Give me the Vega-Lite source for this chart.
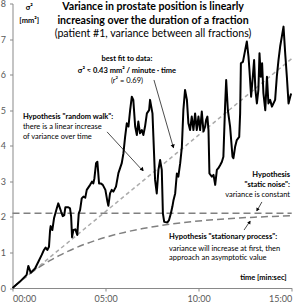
{
  "$schema": "https://vega.github.io/schema/vega-lite/v6.json",
  "width": 279.2,
  "height": 284.5,
  "autosize": {"type": "none"},
  "padding": {"left": 12.5, "top": 3.5, "right": 9.3, "bottom": 14},
  "config": {
    "view": {"stroke": null},
    "font": "Lato",
    "axis": {"grid": false, "domainColor": "#898989", "tickColor": "#898989", "labelColor": "#595959", "labelFontSize": 9, "labelFont": "Lato", "tickSize": 3, "title": null, "labelOverlap": false},
    "text": {"color": "#000000", "fontSize": 7.5, "baseline": "middle"}
  },
  "encoding": {
    "x": {"type": "quantitative", "scale": {"domain": [0, 15], "nice": false},
      "axis": {"values": [0, 5, 10, 15], "tickCount": 4, "labelExpr": "(datum.value < 10 ? '0' : '') + datum.value + ':00'", "labelPadding": 3}},
    "y": {"type": "quantitative", "scale": {"domain": [0, 8], "nice": false},
      "axis": {"values": [0, 1, 2, 3, 4, 5, 6, 7, 8], "tickCount": 9, "labelPadding": 4}}
  },
  "datasets": {
    "one": [{}],
    "variance": [
      {"t": 0, "v": 0}, {"t": 0.4, "v": 0.18}, {"t": 0.76, "v": 0.37}, {"t": 0.85, "v": 0.62}, {"t": 0.98, "v": 0.43},
      {"t": 1.21, "v": 0.55}, {"t": 1.39, "v": 0.74}, {"t": 1.57, "v": 0.93}, {"t": 1.69, "v": 1.07}, {"t": 1.78, "v": 1.14},
      {"t": 1.87, "v": 1.07}, {"t": 1.96, "v": 1.16}, {"t": 2.02, "v": 1.63}, {"t": 2.05, "v": 1.74}, {"t": 2.14, "v": 1.63},
      {"t": 2.23, "v": 1.96}, {"t": 2.38, "v": 2.24}, {"t": 2.46, "v": 2.38}, {"t": 2.52, "v": 2.29}, {"t": 2.61, "v": 2.15},
      {"t": 2.7, "v": 2.02}, {"t": 2.78, "v": 2.05}, {"t": 2.84, "v": 2.27}, {"t": 3.0, "v": 2.27}, {"t": 3.09, "v": 2.24},
      {"t": 3.15, "v": 2.01}, {"t": 3.2, "v": 1.43}, {"t": 3.27, "v": 1.63}, {"t": 3.38, "v": 1.65}, {"t": 3.48, "v": 1.49},
      {"t": 3.56, "v": 2.1}, {"t": 3.63, "v": 2.19}, {"t": 3.72, "v": 2.52}, {"t": 3.81, "v": 2.57}, {"t": 3.91, "v": 2.54},
      {"t": 3.99, "v": 2.76}, {"t": 4.17, "v": 2.9}, {"t": 4.27, "v": 2.99}, {"t": 4.34, "v": 2.94}, {"t": 4.4, "v": 3.08},
      {"t": 4.49, "v": 3.51}, {"t": 4.56, "v": 3.55}, {"t": 4.65, "v": 2.94}, {"t": 4.74, "v": 2.94}, {"t": 4.85, "v": 2.9},
      {"t": 4.99, "v": 2.76}, {"t": 5.1, "v": 2.43}, {"t": 5.15, "v": 2.31}, {"t": 5.24, "v": 2.66}, {"t": 5.33, "v": 2.76},
      {"t": 5.42, "v": 2.71}, {"t": 5.56, "v": 2.85}, {"t": 5.69, "v": 3.23}, {"t": 5.78, "v": 3.37}, {"t": 5.87, "v": 3.51},
      {"t": 5.96, "v": 3.79}, {"t": 6.05, "v": 4.25}, {"t": 6.14, "v": 4.63}, {"t": 6.23, "v": 4.54}, {"t": 6.32, "v": 5.0},
      {"t": 6.41, "v": 5.38}, {"t": 6.49, "v": 5.29}, {"t": 6.59, "v": 4.54}, {"t": 6.68, "v": 4.3}, {"t": 6.76, "v": 4.68},
      {"t": 6.85, "v": 4.35}, {"t": 6.95, "v": 4.44}, {"t": 7.03, "v": 4.3}, {"t": 7.12, "v": 4.54}, {"t": 7.22, "v": 4.91},
      {"t": 7.34, "v": 5.0}, {"t": 7.39, "v": 5.29}, {"t": 7.52, "v": 4.91}, {"t": 7.57, "v": 4.25}, {"t": 7.66, "v": 3.04},
      {"t": 7.75, "v": 2.66}, {"t": 7.84, "v": 3.32}, {"t": 7.93, "v": 3.6}, {"t": 8.02, "v": 3.32}, {"t": 8.08, "v": 2.1},
      {"t": 8.15, "v": 1.86}, {"t": 8.32, "v": 1.84}, {"t": 8.41, "v": 1.91}, {"t": 8.51, "v": 2.1}, {"t": 8.59, "v": 2.29},
      {"t": 8.65, "v": 2.47}, {"t": 8.74, "v": 2.66}, {"t": 8.83, "v": 3.22}, {"t": 8.91, "v": 3.13}, {"t": 9.01, "v": 3.51},
      {"t": 9.1, "v": 3.97}, {"t": 9.18, "v": 5.0}, {"t": 9.27, "v": 5.57}, {"t": 9.37, "v": 5.29}, {"t": 9.45, "v": 4.63},
      {"t": 9.54, "v": 4.44}, {"t": 9.63, "v": 4.82}, {"t": 9.72, "v": 4.44}, {"t": 9.81, "v": 4.91}, {"t": 9.9, "v": 4.44},
      {"t": 9.99, "v": 4.82}, {"t": 10.08, "v": 4.44}, {"t": 10.17, "v": 4.96}, {"t": 10.26, "v": 4.4}, {"t": 10.35, "v": 4.54},
      {"t": 10.4, "v": 4.72}, {"t": 10.47, "v": 4.82}, {"t": 10.53, "v": 4.44}, {"t": 10.58, "v": 3.22}, {"t": 10.71, "v": 3.13},
      {"t": 10.8, "v": 3.18}, {"t": 10.89, "v": 2.9}, {"t": 10.98, "v": 3.32}, {"t": 11.06, "v": 3.37}, {"t": 11.16, "v": 3.46},
      {"t": 11.25, "v": 3.55}, {"t": 11.33, "v": 3.69}, {"t": 11.42, "v": 5.1}, {"t": 11.48, "v": 5.85}, {"t": 11.57, "v": 5.0},
      {"t": 11.69, "v": 4.54}, {"t": 11.82, "v": 3.69}, {"t": 11.87, "v": 3.65}, {"t": 11.96, "v": 3.97}, {"t": 12.05, "v": 4.16},
      {"t": 12.18, "v": 4.25}, {"t": 12.23, "v": 4.91}, {"t": 12.27, "v": 6.32}, {"t": 12.38, "v": 6.36}, {"t": 12.5, "v": 6.69},
      {"t": 12.59, "v": 6.93}, {"t": 12.68, "v": 6.5}, {"t": 12.73, "v": 6.13}, {"t": 12.82, "v": 5.38}, {"t": 12.91, "v": 5.94},
      {"t": 12.98, "v": 6.41}, {"t": 13.05, "v": 5.57}, {"t": 13.13, "v": 5.19}, {"t": 13.21, "v": 5.57}, {"t": 13.27, "v": 6.6},
      {"t": 13.34, "v": 5.94}, {"t": 13.41, "v": 6.32}, {"t": 13.48, "v": 5.48}, {"t": 13.58, "v": 5.0}, {"t": 13.67, "v": 5.94},
      {"t": 13.75, "v": 5.19}, {"t": 13.84, "v": 5.29}, {"t": 13.94, "v": 5.1}, {"t": 14.02, "v": 5.19}, {"t": 14.11, "v": 5.29},
      {"t": 14.2, "v": 5.94}, {"t": 14.29, "v": 6.41}, {"t": 14.38, "v": 6.79}, {"t": 14.47, "v": 7.07}, {"t": 14.56, "v": 7.35},
      {"t": 14.65, "v": 6.6}, {"t": 14.74, "v": 5.94}, {"t": 14.83, "v": 5.19}, {"t": 14.92, "v": 5.38}, {"t": 14.97, "v": 5.47}
    ],
    "fit": [{"t": 0, "v": 0}, {"t": 15, "v": 6.45}],
    "static": [{"t": 0, "v": 2.1}, {"t": 15, "v": 2.1}],
    "stationary": [
      {"t": 0, "v": 0}, {"t": 0.5, "v": 0.226}, {"t": 1, "v": 0.43}, {"t": 1.5, "v": 0.607}, {"t": 2, "v": 0.767},
      {"t": 2.5, "v": 0.91}, {"t": 3, "v": 1.038}, {"t": 4, "v": 1.254}, {"t": 5, "v": 1.426}, {"t": 6, "v": 1.563},
      {"t": 7, "v": 1.672}, {"t": 8, "v": 1.759}, {"t": 9, "v": 1.829}, {"t": 10, "v": 1.884}, {"t": 11, "v": 1.928},
      {"t": 12, "v": 1.963}, {"t": 13, "v": 1.991}, {"t": 14, "v": 2.013}, {"t": 15, "v": 2.031}
    ]
  },
  "layer": [
    {
      "data": {"name": "fit"},
      "mark": {"type": "line", "color": "#ababab", "strokeWidth": 1.5, "strokeDash": [4, 3]},
      "encoding": {"x": {"field": "t"}, "y": {"field": "v"}}
    },
    {
      "data": {"name": "static"},
      "mark": {"type": "line", "color": "#808080", "strokeWidth": 1.5, "strokeDash": [7, 4]},
      "encoding": {"x": {"field": "t"}, "y": {"field": "v"}}
    },
    {
      "data": {"name": "stationary"},
      "mark": {"type": "line", "color": "#808080", "strokeWidth": 1.5, "strokeDash": [7, 4], "interpolate": "monotone"},
      "encoding": {"x": {"field": "t"}, "y": {"field": "v"}}
    },
    {
      "data": {"name": "variance"},
      "mark": {"type": "line", "color": "#000000", "strokeWidth": 2, "strokeJoin": "round"},
      "encoding": {"x": {"field": "t"}, "y": {"field": "v"}}
    },
    {
      "data": {"name": "one"},
      "mark": {"type": "rule", "color": "#000000", "strokeWidth": 0.7},
      "encoding": {"x": {"datum": 5.08}, "y": {"datum": 4.39}, "x2": {"datum": 7.01}, "y2": {"datum": 3.29}}
    },
    {
      "data": {"name": "one"},
      "mark": {"type": "point", "shape": "triangle-up", "filled": true, "color": "#000000", "size": 18, "angle": 137, "opacity": 1},
      "encoding": {"x": {"datum": 6.98}, "y": {"datum": 3.33}}
    },
    {
      "data": {"name": "one"},
      "mark": {"type": "rule", "color": "#000000", "strokeWidth": 0.7},
      "encoding": {"x": {"datum": 7.6}, "y": {"datum": 5.85}, "x2": {"datum": 8.65}, "y2": {"datum": 3.94}}
    },
    {
      "data": {"name": "one"},
      "mark": {"type": "point", "shape": "triangle-up", "filled": true, "color": "#000000", "size": 18, "angle": 164, "opacity": 1},
      "encoding": {"x": {"datum": 8.63}, "y": {"datum": 3.98}}
    },
    {
      "data": {"name": "one"},
      "mark": {"type": "rule", "color": "#000000", "strokeWidth": 0.7},
      "encoding": {"x": {"datum": 13.4}, "y": {"datum": 2.42}, "x2": {"datum": 13.13}, "y2": {"datum": 2.17}}
    },
    {
      "data": {"name": "one"},
      "mark": {"type": "point", "shape": "triangle-up", "filled": true, "color": "#000000", "size": 14, "angle": 209, "opacity": 1},
      "encoding": {"x": {"datum": 13.15}, "y": {"datum": 2.2}}
    },
    {
      "data": {"name": "one"},
      "mark": {"type": "rule", "color": "#000000", "strokeWidth": 0.7},
      "encoding": {"x": {"datum": 12.44}, "y": {"datum": 1.63}, "x2": {"datum": 12.76}, "y2": {"datum": 1.88}}
    },
    {
      "data": {"name": "one"},
      "mark": {"type": "point", "shape": "triangle-up", "filled": true, "color": "#000000", "size": 14, "angle": 34, "opacity": 1},
      "encoding": {"x": {"datum": 12.74}, "y": {"datum": 1.85}}
    },
    {
      "data": {"name": "one"},
      "mark": {"type": "text", "text": ["Variance in prostate position is linearly", "increasing over the duration of a fraction"], "fontWeight": "bold", "fontSize": 10.6, "lineHeight": 13.5, "align": "center"},
      "encoding": {"x": {"datum": 7.55}, "y": {"datum": 7.89}}
    },
    {
      "data": {"name": "one"},
      "mark": {"type": "text", "text": "(patient #1, variance between all fractions)", "fontSize": 10.6, "align": "center"},
      "encoding": {"x": {"datum": 7.55}, "y": {"datum": 7.14}}
    },
    {
      "data": {"name": "one"},
      "mark": {"type": "text", "text": ["σ²", "[mm²]"], "fontWeight": "bold", "lineHeight": 13, "align": "center"},
      "encoding": {"x": {"datum": 0.9}, "y": {"datum": 7.87}}
    },
    {
      "data": {"name": "one"},
      "mark": {"type": "text", "text": ["best fit to data:", "σ² ≈ 0.43 mm² / minute · time"], "fontWeight": "bold", "lineHeight": 12, "align": "center"},
      "encoding": {"x": {"datum": 6.15}, "y": {"datum": 6.44}}
    },
    {
      "data": {"name": "one"},
      "mark": {"type": "text", "text": "(r² = 0.69)", "align": "center"},
      "encoding": {"x": {"datum": 6.15}, "y": {"datum": 5.83}}
    },
    {
      "data": {"name": "one"},
      "mark": {"type": "text", "text": "Hypothesis \"random walk\":", "fontWeight": "bold", "align": "left"},
      "encoding": {"x": {"datum": 0.56}, "y": {"datum": 4.81}}
    },
    {
      "data": {"name": "one"},
      "mark": {"type": "text", "text": ["there is a linear increase", "of variance over time"], "lineHeight": 9.8, "align": "left"},
      "encoding": {"x": {"datum": 0.56}, "y": {"datum": 4.53}}
    },
    {
      "data": {"name": "one"},
      "mark": {"type": "text", "text": ["Hypothesis", "\"static noise\":"], "fontWeight": "bold", "lineHeight": 10, "align": "right"},
      "encoding": {"x": {"datum": 14.91}, "y": {"datum": 3.18}}
    },
    {
      "data": {"name": "one"},
      "mark": {"type": "text", "text": "variance is constant", "align": "right"},
      "encoding": {"x": {"datum": 14.91}, "y": {"datum": 2.62}}
    },
    {
      "data": {"name": "one"},
      "mark": {"type": "text", "text": "Hypothesis \"stationary process\":", "fontWeight": "bold", "align": "left"},
      "encoding": {"x": {"datum": 8.41}, "y": {"datum": 1.43}}
    },
    {
      "data": {"name": "one"},
      "mark": {"type": "text", "text": ["variance will increase at first, then", "approach an asymptotic value"], "lineHeight": 9.5, "align": "left"},
      "encoding": {"x": {"datum": 8.41}, "y": {"datum": 1.1}}
    },
    {
      "data": {"name": "one"},
      "mark": {"type": "text", "text": "time [min:sec]", "fontWeight": "bold", "align": "right"},
      "encoding": {"x": {"datum": 14.73}, "y": {"datum": 0.27}}
    }
  ]
}
